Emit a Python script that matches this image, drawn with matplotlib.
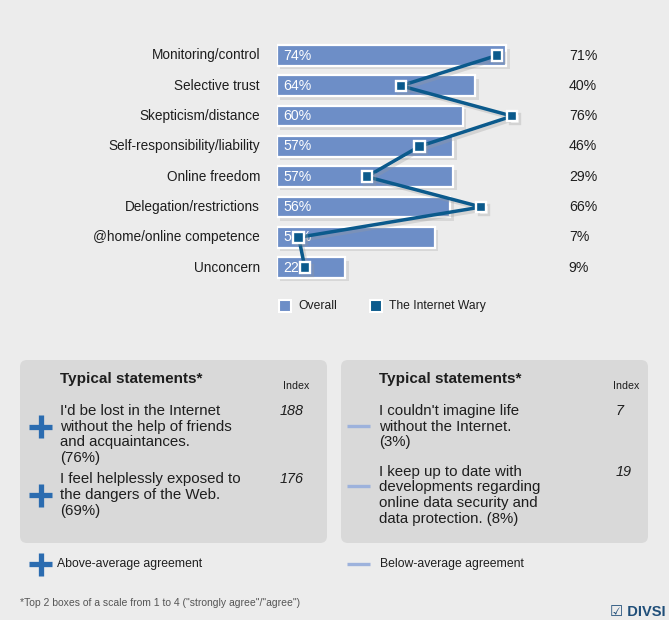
import matplotlib

matplotlib.use("Agg")
import matplotlib.pyplot as plt
import matplotlib.patheffects as pe
from matplotlib.patches import FancyBboxPatch, Rectangle

plt.rcParams["font.family"] = ["Liberation Sans", "DejaVu Sans"]

W, H = 669, 620
BG = "#ececec"
BAR = "#6d8ec7"
LINE = "#0b5a8c"
PANEL = "#d9d9d9"
PLUS = "#2b6cb0"
MINUS = "#9db2dc"
TXT = "#1e1e1e"

categories = [
    "Monitoring/control",
    "Selective trust",
    "Skepticism/distance",
    "Self-responsibility/liability",
    "Online freedom",
    "Delegation/restrictions",
    "@home/online competence",
    "Unconcern",
]
overall = [74, 64, 60, 57, 57, 56, 51, 22]
wary = [71, 40, 76, 46, 29, 66, 7, 9]
series_names = ["Overall", "The Internet Wary"]

above_title = "Typical statements*"
above_lines = [
    ["I'd be lost in the Internet", "without the help of friends", "and acquaintances.", "(76%)"],
    ["I feel helplessly exposed to", "the dangers of the Web.", "(69%)"],
]
above_index = ["188", "176"]
below_lines = [
    ["I couldn't imagine life", "without the Internet.", "(3%)"],
    ["I keep up to date with", "developments regarding", "online data security and", "data protection. (8%)"],
]
below_index = ["7", "19"]
footnote = '*Top 2 boxes of a scale from 1 to 4 ("strongly agree"/"agree")'

fig = plt.figure(figsize=(W / 100, H / 100), dpi=100, facecolor=BG)

# overlay in pixel coordinates for panels and free text
ov = fig.add_axes([0, 0, 1, 1], zorder=0)
ov.set_xlim(0, W)
ov.set_ylim(H, 0)
ov.axis("off")
ov.set_facecolor(BG)

# bar chart axes: 0..100 % mapped to x 277..586 px, rows 55..267 px
row_h = 30.3
top = 55.5 - row_h / 2
ax = fig.add_axes([277 / W, 1 - (top + 8 * row_h) / H, 309.5 / W, 8 * row_h / H], zorder=2)
ax.patch.set_alpha(0)
ax.set_xlim(0, 100)
ax.set_ylim(len(categories) - 0.5, -0.5)
ax.axis("off")

ys = list(range(len(categories)))
shadow = [pe.SimplePatchShadow(offset=(2.5, -2.5), shadow_rgbFace="#9a9a9a", alpha=0.25), pe.Normal()]
bars = ax.barh(ys, overall, height=0.68, color=BAR, edgecolor="white", linewidth=1.6)
for b in bars:
    b.set_path_effects(shadow)
for y, v, w, c in zip(ys, overall, wary, categories):
    ax.text(2.0, y, f"{v}%", color="white", fontsize=10.2, va="center", ha="left")
    ax.text(-5.5, y, c, color=TXT, fontsize=9.8, va="center", ha="right")
    ax.text(94.3, y, f"{w}%", color=TXT, fontsize=10.2, va="center", ha="left")
ax.plot(wary, ys, color=LINE, linewidth=2.5, marker="s", markersize=7.5,
        markerfacecolor=LINE, markeredgecolor="white", markeredgewidth=1.7,
        path_effects=[pe.SimpleLineShadow(offset=(2, -2), shadow_color="#9a9a9a", alpha=0.3), pe.Normal()],
        zorder=3)

# legend
for x0, col, name in [(279, BAR, series_names[0]), (370, LINE, series_names[1])]:
    ov.add_patch(Rectangle((x0, 300), 12, 12, facecolor=col, edgecolor="white", linewidth=1.5))
    ov.text(x0 + 19, 306, name, fontsize=8.7, color=TXT, va="center", ha="left")

# panels
for x0 in (20, 341):
    ov.add_patch(FancyBboxPatch((x0, 360), 307, 183, boxstyle="round,pad=0,rounding_size=7",
                                facecolor=PANEL, edgecolor="none"))


def plus(x, y):
    ov.plot([x - 11.5, x + 11.5], [y, y], color=PLUS, linewidth=3.8, solid_capstyle="butt")
    ov.plot([x, x], [y - 11.5, y + 11.5], color=PLUS, linewidth=3.8, solid_capstyle="butt")


def minus(x, y):
    ov.plot([x - 11.5, x + 11.5], [y, y], color=MINUS, linewidth=2.4, solid_capstyle="butt")


lh = 15.6
# left panel
ov.text(60, 379, above_title, fontsize=11, fontweight="bold", color=TXT, va="center")
ov.text(283, 386, "Index", fontsize=7.7, color=TXT, va="center")
y0 = 411
for lines, idx in zip(above_lines, above_index):
    for i, line in enumerate(lines):
        ov.text(60, y0 + i * lh, line, fontsize=10.8, color=TXT, va="center")
    ov.text(280, y0, idx, fontsize=10.4, style="italic", color=TXT, va="center")
    plus(40.5, y0 + lh)
    y0 += len(lines) * lh + 6

# right panel
ov.text(379, 379, above_title, fontsize=11, fontweight="bold", color=TXT, va="center")
ov.text(613, 386, "Index", fontsize=7.7, color=TXT, va="center")
y0 = 411
for lines, idx in zip(below_lines, below_index):
    for i, line in enumerate(lines):
        ov.text(379, y0 + i * lh, line, fontsize=10.8, color=TXT, va="center")
    ov.text(616, y0, idx, fontsize=10.4, style="italic", color=TXT, va="center")
    minus(358.5, y0 + lh - 1)
    y0 += len(lines) * lh + 14

# agreement legend
plus(40.5, 564)
ov.text(57, 564, "Above-average agreement", fontsize=8.8, color=TXT, va="center")
minus(358.5, 564)
ov.text(380, 564, "Below-average agreement", fontsize=8.8, color=TXT, va="center")

ov.text(20, 603, footnote, fontsize=7.5, color="#555555", va="center")
ov.text(666, 612, "\u2611 DIVSI", fontsize=10.5, fontweight="bold", color="#1f4e79",
        va="center", ha="right")

fig.savefig("out.png", dpi=100, facecolor=BG)
